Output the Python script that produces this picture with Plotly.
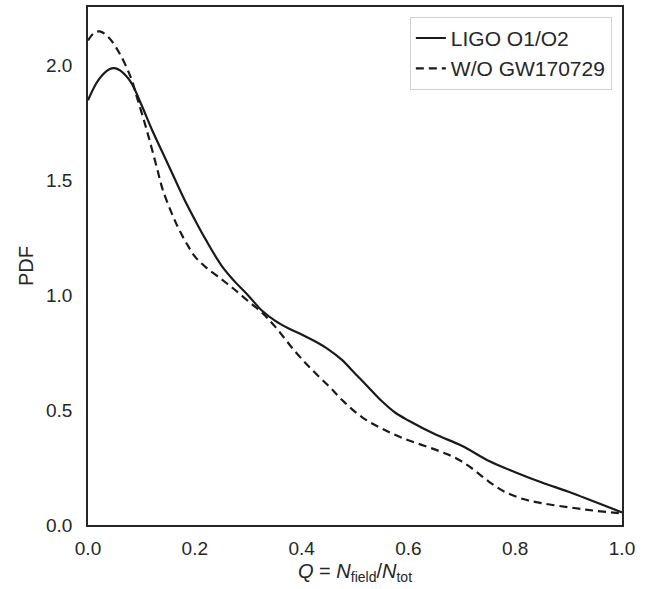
import plotly.graph_objects as go

# LIGO O1/O2 (solid)
q_ligo = [0.0, 0.02, 0.04, 0.05, 0.06, 0.08, 0.10, 0.12, 0.14, 0.16, 0.18, 0.20, 0.22,
          0.25, 0.275, 0.30, 0.325, 0.35, 0.375, 0.40, 0.425, 0.45, 0.475, 0.50, 0.525,
          0.55, 0.575, 0.60, 0.65, 0.70, 0.75, 0.80, 0.85, 0.90, 0.95, 1.0]
pdf_ligo = [1.85, 1.94, 1.985, 1.99, 1.98, 1.93, 1.83, 1.72, 1.62, 1.52, 1.42, 1.33, 1.245,
            1.13, 1.06, 1.00, 0.935, 0.89, 0.857, 0.83, 0.80, 0.765, 0.72, 0.66, 0.60,
            0.54, 0.49, 0.455, 0.395, 0.345, 0.28, 0.23, 0.185, 0.145, 0.10, 0.055]

# W/O GW170729 (dashed)
q_wo = [0.0, 0.01, 0.022, 0.04, 0.06, 0.08, 0.092, 0.11, 0.129, 0.14, 0.16, 0.172, 0.185,
        0.20, 0.222, 0.25, 0.272, 0.30, 0.328, 0.35, 0.39, 0.42, 0.453, 0.48, 0.513,
        0.55, 0.59, 0.653, 0.69, 0.72, 0.75, 0.78, 0.815, 0.85, 0.91, 0.95, 1.0]
pdf_wo = [2.11, 2.14, 2.15, 2.12, 2.05, 1.95, 1.86, 1.72, 1.556, 1.46, 1.34, 1.28, 1.225,
          1.17, 1.12, 1.07, 1.03, 0.975, 0.92, 0.865, 0.75, 0.675, 0.60, 0.535, 0.47,
          0.42, 0.378, 0.326, 0.29, 0.245, 0.19, 0.145, 0.113, 0.095, 0.074, 0.062, 0.05]

x_ticks = [0.0, 0.2, 0.4, 0.6, 0.8, 1.0]
y_ticks = [0.0, 0.5, 1.0, 1.5, 2.0]

line_color = "#1a1a1a"
font_family = "Liberation Sans, Arial, sans-serif"

fig = go.Figure()
fig.add_trace(go.Scatter(x=q_ligo, y=pdf_ligo, mode="lines", name="LIGO O1/O2",
                         line=dict(color=line_color, width=2.2, shape="spline", smoothing=1.0)))
fig.add_trace(go.Scatter(x=q_wo, y=pdf_wo, mode="lines", name="W/O GW170729",
                         line=dict(color=line_color, width=2.2, dash="8px,5px",
                                   shape="spline", smoothing=1.0)))

fig.update_layout(
    width=655, height=589,
    margin=dict(l=88, r=33, t=5, b=64),
    paper_bgcolor="white", plot_bgcolor="white",
    font=dict(family=font_family, size=19, color="#262626"),
    showlegend=True,
    legend=dict(x=0.981, y=0.981, xanchor="right", yanchor="top",
                bgcolor="rgba(255,255,255,0.8)", bordercolor="#d0d0d0", borderwidth=1,
                font=dict(size=21, color="#262626"), tracegroupgap=0),
    xaxis=dict(range=[0, 1], tickvals=x_ticks, ticktext=[f"{v:.1f}" for v in x_ticks],
               showgrid=False, zeroline=False, showline=True, mirror=True,
               linecolor="#262626", linewidth=1.8,
               ticks="outside", ticklen=5, tickcolor="rgba(0,0,0,0)",
               tickfont=dict(size=19),
               title=dict(text="<i>Q</i> = <i>N</i><sub>field</sub>/<i>N</i><sub>tot</sub>",
                          font=dict(size=20), standoff=6)),
    yaxis=dict(range=[0, 2.256], tickvals=y_ticks, ticktext=[f"{v:.1f}" for v in y_ticks],
               showgrid=False, zeroline=False, showline=True, mirror=True,
               linecolor="#262626", linewidth=1.8,
               ticks="outside", ticklen=10, tickcolor="rgba(0,0,0,0)",
               tickfont=dict(size=19),
               title=dict(text="PDF", font=dict(size=20), standoff=7)),
)

fig.write_html("out.html", config={"displayModeBar": False},
               post_script="document.body.style.margin='0px';")
